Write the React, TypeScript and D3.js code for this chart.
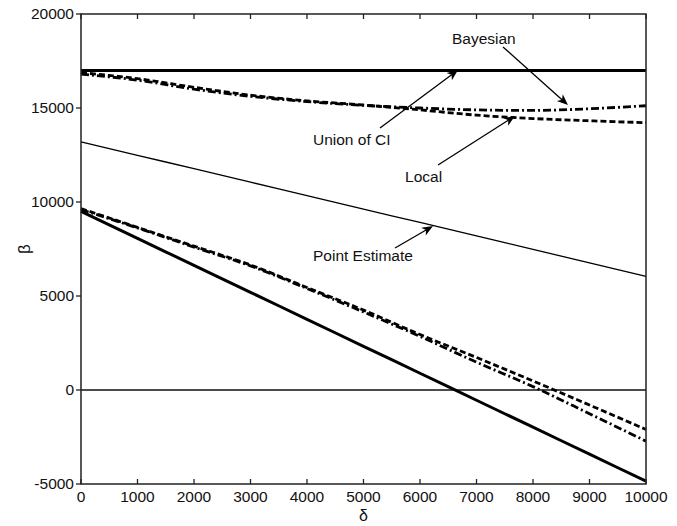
import React from "react";
import * as d3 from "d3";

const deltas = [0, 1000, 2000, 3000, 4000, 5000, 6000, 7000, 8000, 9000, 10000];
const unionUpper = [17000, 17000, 17000, 17000, 17000, 17000, 17000, 17000, 17000, 17000, 17000];
const unionLower = [9500, 8065, 6630, 5195, 3760, 2325, 890, -545, -1980, -3415, -4850];
const pointEstimate = [13200, 12485, 11770, 11055, 10340, 9625, 8910, 8195, 7480, 6765, 6050];
const localUpper = [16880, 16560, 16100, 15680, 15380, 15160, 14900, 14620, 14440, 14320, 14220];
const localLower = [9650, 8650, 7650, 6650, 5450, 4250, 2950, 1730, 480, -800, -2100];
const bayesUpper = [16800, 16480, 16000, 15620, 15340, 15140, 15000, 14900, 14870, 14960, 15120];
const bayesLower = [9600, 8620, 7600, 6600, 5400, 4150, 2850, 1480, 180, -1260, -2720];

const xTicks = [0, 1000, 2000, 3000, 4000, 5000, 6000, 7000, 8000, 9000, 10000];
const yTicks = [-5000, 0, 5000, 10000, 15000, 20000];

// annotations: label anchor (left, middle) and arrow from -> to, in data units
const annLabels = ["Bayesian", "Union of CI", "Local", "Point Estimate"];
const annTextX = [6566, 4106, 5735, 4106];
const annTextY = [18670, 13298, 11330, 7128];
const annFromX = [7469, 5292, 6319, 5558];
const annFromY = [18245, 13936, 11968, 7553];
const annToX = [8619, 6673, 7681, 6230];
const annToY = [15160, 17021, 14574, 8723];

const W = 677, H = 526;
const M = { left: 81, right: 31, top: 14, bottom: 42 };
const FONT = "Arial, 'Liberation Sans', sans-serif";

export default function App() {
  const x = d3.scaleLinear().domain([0, 10000]).range([M.left, W - M.right]);
  const y = d3.scaleLinear().domain([-5000, 20000]).range([H - M.bottom, M.top]);
  const line = (vals: number[]) =>
    d3.line<number>().x((_, i) => x(deltas[i])).y((v) => y(v)).curve(d3.curveMonotoneX)(vals) || "";

  const x0 = x(0), x1 = x(10000), yT = y(20000), yB = y(-5000);

  const arrow = (i: number) => {
    const fx = x(annFromX[i]), fy = y(annFromY[i]);
    const tx = x(annToX[i]), ty = y(annToY[i]);
    const ang = Math.atan2(ty - fy, tx - fx);
    const L = 11, Wd = 4.5, notch = 8;
    const bx = tx - L * Math.cos(ang), by = ty - L * Math.sin(ang);
    const nx = tx - notch * Math.cos(ang), ny = ty - notch * Math.sin(ang);
    const px = -Math.sin(ang), py = Math.cos(ang);
    const head = `M${tx},${ty} L${bx + px * Wd},${by + py * Wd} L${nx},${ny} L${bx - px * Wd},${by - py * Wd} Z`;
    return (
      <g key={"a" + i}>
        <line x1={fx} y1={fy} x2={nx} y2={ny} stroke="#000" strokeWidth={1.3} />
        <path d={head} fill="#000" />
      </g>
    );
  };

  return (
    <svg width={W} height={H} style={{ position: "absolute", left: 0, top: 0, background: "#fff" }} fontFamily={FONT}>
      <rect x={0} y={0} width={W} height={H} fill="#fff" />
      {/* zero line */}
      <line x1={x0} x2={x1} y1={y(0)} y2={y(0)} stroke="#111" strokeWidth={1.3} />
      {/* series */}
      <path d={line(pointEstimate)} fill="none" stroke="#000" strokeWidth={1.3} />
      <path d={line(unionUpper)} fill="none" stroke="#000" strokeWidth={3} />
      <path d={line(unionLower)} fill="none" stroke="#000" strokeWidth={3} />
      <path d={line(localUpper)} fill="none" stroke="#000" strokeWidth={2.8} strokeDasharray="6,3" />
      <path d={line(localLower)} fill="none" stroke="#000" strokeWidth={2.8} strokeDasharray="6,3" />
      <path d={line(bayesUpper)} fill="none" stroke="#000" strokeWidth={2.8} strokeDasharray="8,3,2,3" />
      <path d={line(bayesLower)} fill="none" stroke="#000" strokeWidth={2.8} strokeDasharray="8,3,2,3" />
      {/* frame */}
      <rect x={x0} y={yT} width={x1 - x0} height={yB - yT} fill="none" stroke="#222" strokeWidth={1.5} />
      {/* x ticks */}
      {xTicks.map((t) => (
        <g key={"xt" + t}>
          <line x1={x(t)} x2={x(t)} y1={yB} y2={yB - 5} stroke="#222" strokeWidth={1.3} />
          <line x1={x(t)} x2={x(t)} y1={yT} y2={yT + 5} stroke="#222" strokeWidth={1.3} />
          <text x={x(t)} y={yB + 18} textAnchor="middle" fontSize={15.5} fill="#111">{t}</text>
        </g>
      ))}
      {/* y ticks */}
      {yTicks.map((t) => (
        <g key={"yt" + t}>
          <line x1={x0 - 5} x2={x0} y1={y(t)} y2={y(t)} stroke="#222" strokeWidth={1.3} />
          <text x={x0 - 7} y={y(t)} dy="0.35em" textAnchor="end" fontSize={15.5} fill="#111">{t}</text>
        </g>
      ))}
      {/* axis labels */}
      <text x={(x0 + x1) / 2} y={H - 5} textAnchor="middle" fontSize={16} fill="#111">δ</text>
      <text transform={`translate(30,${(yT + yB) / 2}) rotate(-90)`} textAnchor="middle" fontSize={17} fill="#111">β</text>
      {/* annotations */}
      {annLabels.map((lab, i) => (
        <g key={"ann" + i}>
          <text x={x(annTextX[i])} y={y(annTextY[i])} dy="0.35em" fontSize={15.5} fill="#111">{lab}</text>
          {arrow(i)}
        </g>
      ))}
    </svg>
  );
}
